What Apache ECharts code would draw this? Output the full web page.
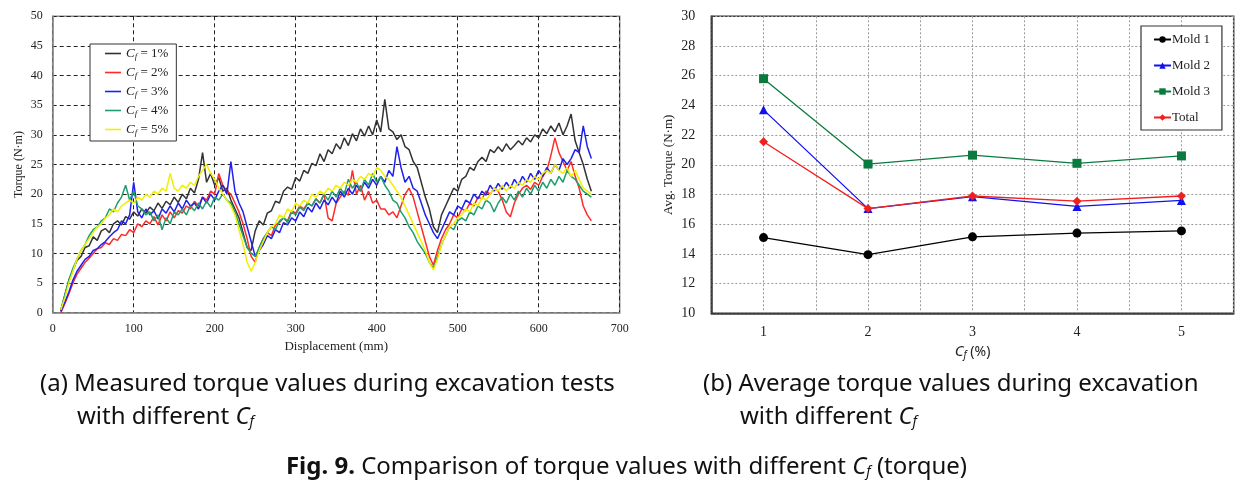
<!DOCTYPE html>
<html>
<head>
<meta charset="utf-8">
<script src="https://cdn.jsdelivr.net/npm/echarts@6/dist/echarts.min.js"></script>
<style>
html,body{margin:0;padding:0;background:#fff;}
#chart{width:1253px;height:489px;}
</style>
</head>
<body>
<div id="chart"></div>
<script>
// ---------- Panel (a): measured torque vs displacement ----------
const displacement = [
  10,15,20,25,30,35,40,45,50,55,
  60,65,70,75,80,85,90,95,100,105,
  110,115,120,125,130,135,140,145,150,155,
  160,165,170,175,180,185,190,195,200,205,
  210,215,220,225,230,235,240,245,250,255,
  260,265,270,275,280,285,290,295,300,305,
  310,315,320,325,330,335,340,345,350,355,
  360,365,370,375,380,385,390,395,400,405,
  410,415,420,425,430,435,440,445,450,455,
  460,465,470,475,480,485,490,495,500,505,
  510,515,520,525,530,535,540,545,550,555,
  560,565,570,575,580,585,590,595,600,605,
  610,615,620,625,630,635,640,645,650,655,
  660,665
];
const torqueCf1 = [
  0.3,3,5.5,7.2,8.8,9.5,11,11.3,12.8,12.2,
  13.8,14.2,13.5,15,15.5,14.8,16.2,15.8,17,16.3,
  17.5,16.8,17.8,17.2,18.5,17.6,18.8,18.2,19.5,18.6,
  20,19.2,21,20.2,22.5,27,22,23.5,21.5,22.8,
  20.5,21,19,17.5,16,13.5,11,10.5,13.8,15.5,
  14.8,16.8,17.2,18.8,18.5,20.5,21.2,20.8,22.8,22.2,
  24,23.5,25.2,24.8,26.8,25.5,27.5,26.8,28.5,27.6,
  29.5,28.2,30.2,29,31,29.8,31.5,30,32.5,30.5,
  36,31,30.5,29.2,30,28,27.5,25.5,24.5,22,
  19.5,17.5,14.5,13.5,16.5,18,19.5,21,20.5,22.5,
  23,24.5,24,25.5,26.2,25.5,27.5,27,28,27.2,
  28.5,27.5,28.2,29,28.3,29.5,28.8,30,29.5,31,
  30.2,31.5,30.5,32,30,31.5,33.5,29,27,25,
  22.5,20.5
];
const torqueCf2 = [
  0,1.5,3.2,5,6.5,7.5,8.5,9.2,10,10.8,
  11,11.8,11.5,12.5,12.2,13.2,13,14,13.5,15,
  14.5,15.5,15,16.2,14.8,16.5,15.5,17,16,17.2,
  16.8,18,17.5,18.8,18,19.5,19,20.5,20,23.5,
  21.5,20.5,20,18.5,17,15,12.5,9.5,8.5,11,
  12.5,13.5,13,14.8,15.2,16,15.5,17.2,16.8,18,
  17.5,18.5,18,19.2,18.5,20,16,15.5,18.5,19.5,
  20.5,19.8,24,20,21.5,19,20.5,18.5,19,17.5,
  17.5,16.5,17,16,18,20,21,19.5,17,14.5,
  12,9.5,8,10.5,12.5,14,15,16.5,16,17.5,
  17.2,18.5,18,19.5,19.2,20.5,20,21,20.5,19,
  17,16.2,18.5,20,21,21.5,20.8,22,21.5,23,
  24,26.5,29.5,27,25.5,24,25.5,23,21,18,
  16.5,15.5
];
const torqueCf3 = [
  0.2,1.8,3.5,5.5,7,8,9,9.5,10.5,10.8,
  11.5,12,12.8,13.5,14,15.5,15,16.5,22,17,
  16,17.5,16.5,17.2,15.8,17.5,16.8,18,17,18.5,
  17.5,19,18,18.5,17.5,19.5,18.5,20,19,20.5,
  21.5,20,25.5,20.5,18.5,17,14.5,12,9.5,10.5,
  11.5,13,12.5,14,13.5,15.2,14.8,16,15.5,17,
  16.2,17.8,17,18.5,17.5,19,18.2,19.5,18.5,20.5,
  19.5,21,20,21.5,20.5,22,21,22.5,21.5,23,
  22,24,23,28,24.5,22,23,21,20.5,18.5,
  16.5,15,13.5,12.5,14,15.5,17,16.5,18,17.5,
  19,18.5,20,19.2,20.5,19.8,21.5,20.5,21.8,20.8,
  22,21,22.5,21.5,23,22,23.5,22.5,24,23,
  24.5,23.5,25,24,26,25,26,27.5,27,31.5,
  28,26
];
const torqueCf4 = [
  0.5,3,5.5,7.5,9,10.5,11.5,13,14,14.5,
  15.5,16,17.5,17,18.5,19.5,21.5,19,20.5,18,
  17.5,16.5,17,15.5,16.5,14,16,15,17,16.5,
  17.5,16.5,18,17.2,18.5,17.5,18.8,17.8,19.5,19,
  20,19,18.5,17,15,13,11,10,9.5,11,
  12.5,13.5,14.5,14,15.5,16,15.2,17,16.5,17.8,
  17.2,18.5,18,19.2,18.5,20,19,20.5,19.5,21,
  20,22.5,21,22,20.5,22.5,21.5,23.5,22,23,
  21.5,20.5,19,18.5,17,16,14.5,13.5,12,11,
  10,8.5,7.5,9.5,11.5,13,14.5,14,15.5,16,
  15.5,17,16.5,18,17.5,19,18.5,17,18.5,19.5,
  18.5,20,19,20.5,19.5,21,20,21.5,20.5,22,
  21,22.5,21.5,23,22,24,23,22.5,21.5,20.5,
  20,19.5
];
const torqueCf5 = [
  0.5,2.5,5,7,9,10.5,11.5,12.5,13.5,14.5,
  15,16,16.5,17.5,17,18,18.5,19,18.5,19.5,
  19,20,19.5,20.5,20,21,20.5,23.5,21,20.5,
  21.5,21,22,21.5,23,24,25,23.5,22.5,21,
  20,19,18,16.5,14,11.5,8.5,7,8.5,10.5,
  12,13.5,14.5,15,16.5,16,17.5,17,18.5,18,
  19,18.5,20,19.5,20.5,20,21,20.5,21.5,21,
  22,21.5,22.5,22,23,22.5,23.5,23,24.5,24,
  23,22.5,21.5,20.5,19.5,18,16.5,15,13.5,12,
  10.5,8.5,7.2,9,11.5,13,14.5,15,16,16.5,
  17.5,17,18.5,18,19.5,19,20,21,20.5,21.5,
  20.5,21.5,21,22,21.5,22.5,22,23,22.5,23.5,
  24,23.5,25,24,23.5,24.5,23,24,22.5,21,
  20.5,20
];
const cfLabels = ['1%','2%','3%','4%','5%'];

// ---------- Panel (b): average torque vs Cf ----------
const cfPercent = [1,2,3,4,5];
const mold1 = [15.1,13.95,15.15,15.4,15.55];
const mold2 = [23.7,17.05,17.85,17.2,17.6];
const mold3 = [25.8,20.05,20.65,20.1,20.6];
const totalAvg = [21.55,17.05,17.9,17.55,17.9];

const serif = 'Liberation Serif';
const sans = 'Noto Sans';
const leftColors = ['#333333','#ff2a2a','#2020ee','#1f9e6e','#f0f000'];
const leftData = [torqueCf1,torqueCf2,torqueCf3,torqueCf4,torqueCf5];

const leftSeries = leftData.map((vals,k)=>({
  type:'line', name:'Cf = '+cfLabels[k], xAxisIndex:0, yAxisIndex:0,
  data: displacement.map((x,i)=>[x, vals[i]]),
  showSymbol:false, symbol:'none', lineStyle:{width:1.5,color:leftColors[k]},
  itemStyle:{color:leftColors[k]}, animation:false
}));

const rightDefs = [
  {name:'Mold 1', data:mold1, color:'#000000', symbol:'circle', size:9},
  {name:'Mold 2', data:mold2, color:'#1010f0', symbol:'triangle', size:9},
  {name:'Mold 3', data:mold3, color:'#0b7a3e', symbol:'rect', size:9},
  {name:'Total', data:totalAvg, color:'#f02020', symbol:'diamond', size:9}
];
const rightSeries = rightDefs.map(d=>({
  type:'line', name:d.name, xAxisIndex:1, yAxisIndex:1,
  data: cfPercent.map((c,i)=>[c, d.data[i]]),
  symbol:d.symbol, symbolSize:d.size, showSymbol:true,
  lineStyle:{width:1.3,color:d.color}, itemStyle:{color:d.color}, animation:false
}));

const cfRich = {
  i:{fontStyle:'italic', fontFamily:serif, fontSize:13, color:'#222'},
  s:{fontStyle:'italic', fontFamily:serif, fontSize:9, color:'#222', padding:[6,0,0,0]},
  n:{fontFamily:serif, fontSize:13, color:'#222'}
};

const capRich = {
  t:{fontFamily:sans, fontSize:24, fill:'#111'},
  c:{fontFamily:sans, fontSize:24, fontStyle:'italic', fill:'#111'},
  s:{fontFamily:sans, fontSize:14, fontStyle:'italic', fill:'#111', padding:[10,0,0,0]},
  b:{fontFamily:sans, fontSize:24, fontWeight:'bold', fill:'#111'}
};

const lineIcon = 'path://M0,0 L16,0 L16,1.6 L0,1.6 Z';

const option = {
  backgroundColor:'#fff',
  animation:false,
  grid:[
    {left:52.7, top:16.3, width:567, height:296.4, show:true, borderColor:'#8a8a8a', borderWidth:1.5, backgroundColor:'transparent'},
    {left:711.3, top:16.3, width:522.4, height:297, show:true, borderColor:'#333', borderWidth:1.5, backgroundColor:'transparent'}
  ],
  xAxis:[
    {type:'value', gridIndex:0, min:0, max:700, interval:100,
     name:'Displacement (mm)', nameLocation:'middle', nameGap:27,
     nameTextStyle:{fontFamily:serif, fontSize:13, color:'#222'},
     axisLine:{show:true, lineStyle:{color:'#8a8a8a', width:1.5}}, axisTick:{show:false},
     axisLabel:{fontFamily:serif, fontSize:12, color:'#222', margin:10},
     splitLine:{show:true, lineStyle:{color:'#222', type:[4,3], width:1}}},
    {type:'value', gridIndex:1, min:0.5, max:5.5, interval:0.5,
     name:'{i|C}{s|f}{n| (%)}', nameLocation:'middle', nameGap:30,
     nameTextStyle:{rich:{
       i:{fontStyle:'italic', fontFamily:sans, fontSize:15, color:'#222'},
       s:{fontStyle:'italic', fontFamily:sans, fontSize:10, color:'#222', padding:[7,0,0,0]},
       n:{fontFamily:sans, fontSize:14, color:'#222'}}},
     axisLine:{show:true, lineStyle:{color:'#333', width:1.5}}, axisTick:{show:false},
     axisLabel:{fontFamily:serif, fontSize:14, color:'#222', margin:12,
       formatter:v=> (Math.abs(v-Math.round(v))<1e-6 && v>=1 && v<=5) ? String(Math.round(v)) : ''},
     splitLine:{show:true, lineStyle:{color:'#9a9a9a', type:[2,2], width:1}}}
  ],
  yAxis:[
    {type:'value', gridIndex:0, min:0, max:50, interval:5,
     name:'Torque (N·m)', nameLocation:'middle', nameGap:28,
     nameTextStyle:{fontFamily:serif, fontSize:12, color:'#222'},
     axisLine:{show:true, lineStyle:{color:'#8a8a8a', width:1.5}}, axisTick:{show:false},
     axisLabel:{fontFamily:serif, fontSize:12, color:'#222', margin:10},
     splitLine:{show:true, lineStyle:{color:'#222', type:[4,3], width:1}}},
    {type:'value', gridIndex:1, min:10, max:30, interval:2,
     name:'Avg. Torque (N·m)', nameLocation:'middle', nameGap:36,
     nameTextStyle:{fontFamily:serif, fontSize:13, color:'#222'},
     axisLine:{show:true, lineStyle:{color:'#333', width:1.5}}, axisTick:{show:false},
     axisLabel:{fontFamily:serif, fontSize:14, color:'#222', margin:16},
     splitLine:{show:true, lineStyle:{color:'#9a9a9a', type:[2,2], width:1}}}
  ],
  legend:[
    {data:leftSeries.map(s=>({name:s.name, icon:lineIcon})), orient:'vertical', left:90, top:44, width:89,
     padding:[3,8,4,15], itemGap:5, itemWidth:16, itemHeight:2,
     borderColor:'#333', borderWidth:1, backgroundColor:'#fff',
     formatter:name=>'{i|C}{s|f}{n| = '+name.split('= ')[1]+'}',
     textStyle:{rich:cfRich, lineHeight:12}},
    {data:rightDefs.map(d=>d.name), orient:'vertical', left:1141, top:26,
     padding:[7,12,6,12], itemGap:13, itemWidth:17, itemHeight:8,
     borderColor:'#333', borderWidth:1.2, backgroundColor:'#fff',
     textStyle:{fontFamily:serif, fontSize:13, color:'#222', padding:[0,0,0,-4]}}
  ],
  series: leftSeries.concat(rightSeries),
  graphic:[
    {type:'text', left:40, top:372, style:{text:'{t|(a) Measured torque values during excavation tests}', rich:capRich}},
    {type:'text', left:77, top:405, style:{text:'{t|with different }{c|C}{s|f}', rich:capRich}},
    {type:'text', left:703, top:372, style:{text:'{t|(b) Average torque values during excavation}', rich:capRich}},
    {type:'text', left:740, top:405, style:{text:'{t|with different }{c|C}{s|f}', rich:capRich}},
    {type:'text', left:'center', top:455, style:{text:'{b|Fig. 9.}{t| Comparison of torque values with different }{c|C}{s|f}{t| (torque)}', rich:capRich}}
  ]
};

const chart = echarts.init(document.getElementById('chart'), null, {renderer:'canvas'});
chart.setOption(option);
</script>
</body>
</html>
